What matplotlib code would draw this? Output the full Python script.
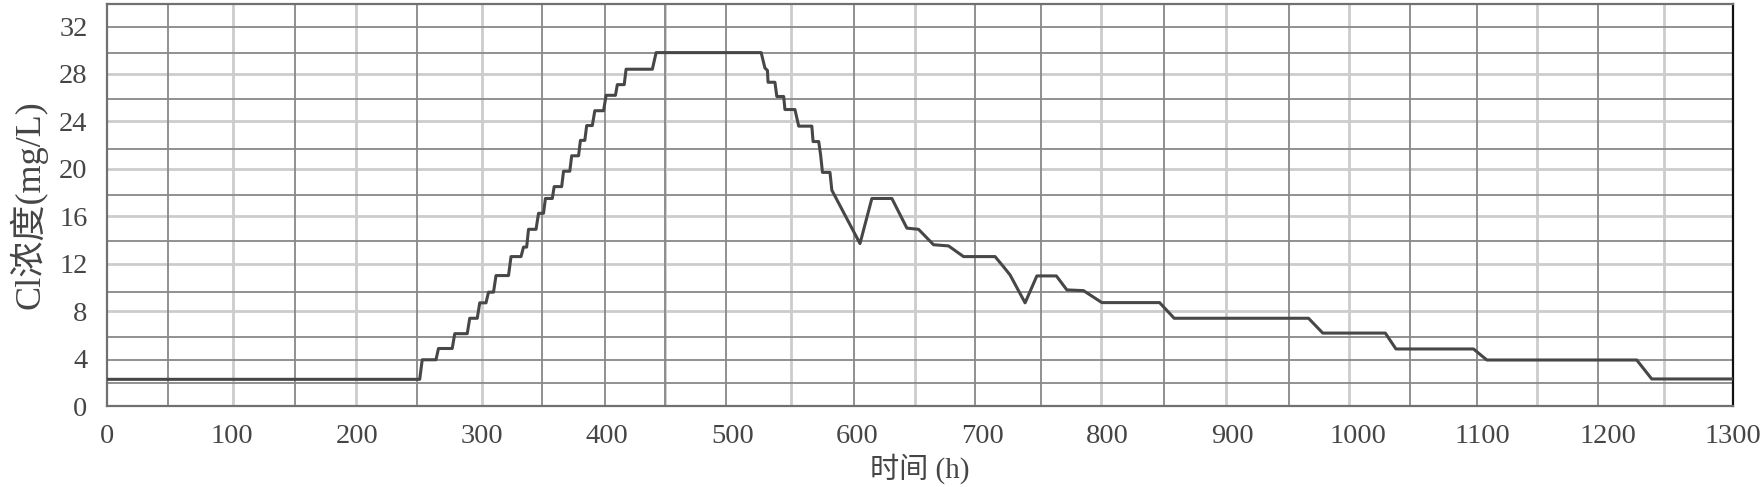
import matplotlib
matplotlib.use('Agg')
import matplotlib.pyplot as plt

plt.rcParams['font.family'] = ['Liberation Serif', 'Noto Sans CJK SC']

# 时间 (h) 与 Cl 浓度 (mg/L)，台阶拐点按图读取
t = [0, 250, 252, 263, 265, 276, 278, 288, 290, 296, 298, 303, 305, 309, 311,
     321, 323, 331, 333, 335.5, 337, 343, 345, 349, 350.5, 356, 357.5, 363.5,
     365, 370, 371.5, 377, 378.5, 382, 383.5, 388, 390, 397, 399, 406.5, 408,
     413.5, 415, 436, 439, 523, 526, 528, 528.5, 534, 535.5, 541, 542, 550,
     553, 563.5, 564.5, 569, 570.5, 572, 578, 579.5, 602, 611.5, 627.5, 639.5,
     648.8, 660.8, 672.8, 684.8, 710, 716.7, 722, 734, 743.4, 759, 767.4,
     780.7, 795.4, 841.5, 853.2, 960.6, 972, 1022, 1030.5, 1092.5, 1103.2,
     1223, 1235, 1300]
conc = [2.25, 2.25, 3.9, 3.9, 4.85, 4.85, 6.1, 6.1, 7.4, 7.4, 8.7, 8.7, 9.6,
        9.6, 11.0, 11.0, 12.6, 12.6, 13.4, 13.4, 14.9, 14.9, 16.25, 16.25,
        17.5, 17.5, 18.5, 18.5, 19.8, 19.8, 21.1, 21.1, 22.4, 22.4, 23.65,
        23.65, 24.9, 24.9, 26.2, 26.2, 27.1, 27.1, 28.4, 28.4, 29.8, 29.8,
        28.5, 28.3, 27.3, 27.3, 26.1, 26.1, 25.0, 25.0, 23.6, 23.6, 22.3, 22.3,
        21.2, 19.7, 19.7, 18.2, 13.7, 17.5, 17.5, 15.0, 14.9, 13.6, 13.5, 12.6,
        12.6, 11.75, 11.05, 8.7, 10.97, 10.97, 9.79, 9.73, 8.72, 8.72, 7.4,
        7.4, 6.15, 6.15, 4.81, 4.81, 3.88, 3.88, 2.28, 2.28]

xticks = list(range(0, 1301, 100))
yticks = list(range(0, 33, 4))

# 网格线（原图为扫描件，深浅两套网格不对齐）
hgrid_light = [8, 12, 16, 20, 24, 28]
hgrid_dark = [1.9, 3.9, 5.8, 9.6, 13.9, 17.8, 21.7, 25.9, 29.8, 32]
vgrid_light = [101, 199, 300, 446, 547, 646, 795, 895, 993, 1143, 1245]
vgrid_dark = [49, 150, 248, 348, 398, 446, 495, 597, 694, 747, 845, 945,
              1042, 1095, 1192]

fig = plt.figure(figsize=(17.63, 4.87), dpi=100)
ax = fig.add_axes([0.0607, 0.1663, 0.9223, 0.8255])

for v in hgrid_light:
    ax.axhline(v, color='#cccccc', lw=2.0, zorder=1)
for v in vgrid_light:
    ax.axvline(v, color='#cccccc', lw=2.0, zorder=1)
for v in hgrid_dark:
    ax.axhline(v, color='#888888', lw=1.3, zorder=2)
for v in vgrid_dark:
    ax.axvline(v, color='#888888', lw=1.3, zorder=2)

ax.plot(t, conc, color='#474747', lw=2.2, zorder=3)

ax.set_xlim(0, 1300)
ax.set_ylim(0, 33.9)
ax.set_xticks(xticks)
ax.set_yticks(yticks)
ax.tick_params(length=0, labelsize=20.5, labelcolor='#454545')
ax.tick_params(axis='x', pad=13)
ax.tick_params(axis='y', pad=14)

for s in ['left', 'top', 'bottom']:
    ax.spines[s].set_color('#707070')
    ax.spines[s].set_linewidth(1.6)
ax.spines['right'].set_color('#111111')
ax.spines['right'].set_linewidth(1.6)

ax.set_xlabel('时间 (h)', fontsize=21, color='#454545', labelpad=3)
ax.set_ylabel('Cl浓度(mg/L)', fontsize=26, color='#454545', labelpad=8)

fig.savefig('out.png', dpi=100)
